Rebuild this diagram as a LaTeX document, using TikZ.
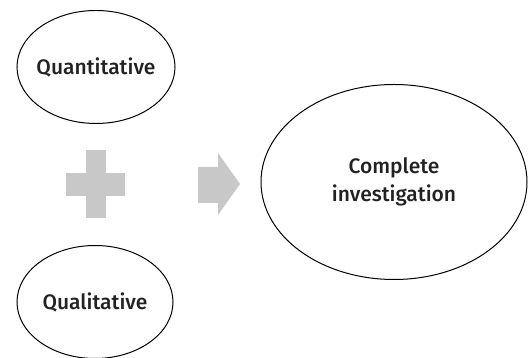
\documentclass[tikz,border=0pt]{standalone}
\usepackage{fontspec}
\setmainfont{Fira Sans}[UprightFont={* Medium}]
\usetikzlibrary{shapes.geometric}
\definecolor{txt}{HTML}{222222}
\definecolor{shape}{HTML}{C8C8C8}
\begin{document}
\begin{tikzpicture}[x=1pt,y=1pt,
  oval/.style={draw=black,line width=1pt,ellipse,inner sep=0pt},
  lbl/.style={text=txt,font=\fontsize{21}{28}\selectfont,align=center},
  glyph/.style={fill=shape,draw=none}]
\useasboundingbox (0,0) rectangle (530,358);
\node[oval,minimum width=158,minimum height=113,label={[lbl]center:Quantitative}] (quan) at (96,291) {};
\node[oval,minimum width=156,minimum height=113,label={[lbl]center:Qualitative}] (qual) at (95,56) {};
\node[oval,minimum width=266,minimum height=195,label={[lbl]center:Complete\\investigation}] (comp) at (394,176) {};
% plus sign
\fill[glyph] (86,140) rectangle (106,208);
\fill[glyph] (66,162) rectangle (125,185);
% arrow
\fill[glyph] (198,155) -- (218,155) -- (218,143) -- (240,174) -- (218,205) -- (218,191) -- (198,191) -- cycle;
\end{tikzpicture}
\end{document}
